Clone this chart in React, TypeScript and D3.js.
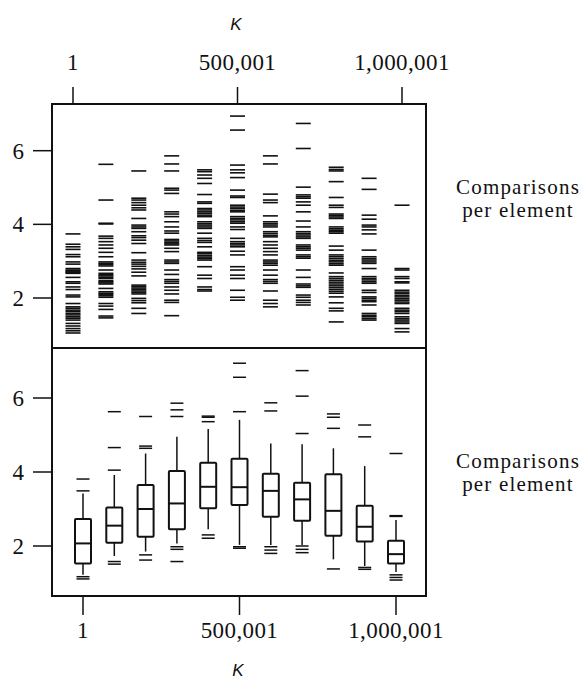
import * as d3 from "d3";

// K positions (one column per value of K)
const kValues = [1, 100001, 200001, 300001, 400001, 500001, 600001, 700001, 800001, 900001, 1000001];

// comparisons per element, one array per K
const c01 = [3.74, 3.46, 3.39, 3.32, 3.18, 3.12, 2.98, 2.92, 2.8, 2.76, 2.74, 2.71, 2.69, 2.67, 2.56, 2.44, 2.4, 2.3, 2.23, 2.08, 2.03, 1.85, 1.76, 1.72, 1.67, 1.63, 1.58, 1.54, 1.49, 1.45, 1.4, 1.31, 1.24, 1.17, 1.11, 1.05];
const c02 = [5.63, 4.66, 4.03, 4.01, 3.68, 3.62, 3.53, 3.44, 3.35, 3.24, 3.12, 2.98, 2.94, 2.91, 2.87, 2.76, 2.67, 2.63, 2.6, 2.56, 2.53, 2.47, 2.44, 2.41, 2.38, 2.26, 2.17, 2.13, 2.1, 2.06, 2.02, 1.85, 1.78, 1.69, 1.51, 1.46];
const c03 = [5.45, 4.71, 4.66, 4.59, 4.52, 4.45, 4.39, 4.16, 3.98, 3.93, 3.89, 3.8, 3.69, 3.64, 3.57, 3.48, 3.23, 3.03, 2.97, 2.92, 2.86, 2.79, 2.7, 2.6, 2.35, 2.31, 2.27, 2.23, 2.19, 2.15, 2.11, 1.99, 1.93, 1.87, 1.72, 1.58];
const c04 = [5.86, 5.64, 5.45, 4.98, 4.93, 4.84, 4.34, 4.28, 4.21, 4.07, 3.93, 3.82, 3.76, 3.59, 3.55, 3.51, 3.47, 3.44, 3.35, 3.26, 3.03, 2.98, 2.94, 2.76, 2.64, 2.5, 2.45, 2.4, 2.3, 2.21, 2.11, 1.94, 1.88, 1.52];
const c05 = [5.48, 5.43, 5.34, 5.25, 5.11, 4.81, 4.61, 4.57, 4.43, 4.39, 4.34, 4.3, 4.25, 4.21, 4.07, 4.02, 3.98, 3.93, 3.89, 3.76, 3.62, 3.56, 3.51, 3.39, 3.24, 3.2, 3.15, 3.11, 3.07, 3.03, 2.85, 2.62, 2.53, 2.3, 2.23, 2.19];
const c06 = [6.94, 6.56, 5.61, 5.48, 5.4, 5.27, 4.93, 4.77, 4.73, 4.52, 4.47, 4.43, 4.38, 4.34, 4.21, 4.16, 4.12, 4.07, 4.03, 3.93, 3.86, 3.62, 3.53, 3.48, 3.44, 3.39, 3.27, 3.17, 2.85, 2.76, 2.62, 2.53, 2.21, 2.02, 1.94];
const c07 = [5.86, 5.64, 4.82, 4.66, 4.59, 4.23, 4.07, 4.02, 3.98, 3.93, 3.8, 3.75, 3.7, 3.66, 3.53, 3.44, 3.35, 3.26, 3.17, 3.03, 2.98, 2.94, 2.89, 2.76, 2.62, 2.5, 2.45, 2.4, 2.19, 1.94, 1.85, 1.76];
const c08 = [6.74, 6.06, 5.01, 4.8, 4.75, 4.71, 4.61, 4.52, 4.34, 4.09, 3.93, 3.8, 3.75, 3.71, 3.66, 3.62, 3.44, 3.39, 3.35, 3.3, 3.17, 3.12, 3.08, 2.76, 2.56, 2.38, 2.33, 2.29, 2.08, 2.02, 1.94, 1.88, 1.81];
const c09 = [5.55, 5.49, 5.45, 5.16, 4.73, 4.52, 4.46, 4.28, 4.24, 4.2, 4.16, 3.93, 3.88, 3.84, 3.8, 3.76, 3.41, 3.3, 3.17, 3.12, 3.07, 3.02, 2.98, 2.93, 2.89, 2.68, 2.58, 2.53, 2.48, 2.43, 2.38, 2.33, 2.28, 2.23, 2.18, 2.13, 2.03, 1.87, 1.72, 1.65, 1.35];
const c10 = [5.25, 4.95, 4.25, 4.14, 3.98, 3.93, 3.85, 3.74, 3.3, 3.12, 3.07, 3.03, 2.98, 2.94, 2.8, 2.58, 2.53, 2.49, 2.44, 2.4, 2.21, 2.15, 2.03, 1.99, 1.94, 1.9, 1.81, 1.58, 1.53, 1.49, 1.44, 1.4];
const c11 = [4.52, 2.8, 2.76, 2.58, 2.53, 2.44, 2.41, 2.21, 2.16, 2.12, 2.07, 2.03, 1.98, 1.94, 1.89, 1.85, 1.72, 1.67, 1.63, 1.58, 1.49, 1.44, 1.4, 1.35, 1.31, 1.17, 1.08];
const columns = [c01, c02, c03, c04, c05, c06, c07, c08, c09, c10, c11];

// box plot summaries
const boxQ1 = [1.53, 2.09, 2.25, 2.45, 3.02, 3.11, 2.79, 2.68, 2.28, 2.12, 1.53];
const boxMedian = [2.07, 2.55, 3.0, 3.15, 3.6, 3.59, 3.49, 3.26, 2.95, 2.52, 1.78];
const boxQ3 = [2.73, 3.04, 3.65, 4.03, 4.25, 4.36, 3.95, 3.71, 3.94, 3.09, 2.14];
const whiskerLow = [1.22, 1.73, 1.85, 2.07, 2.45, 2.03, 2.03, 2.03, 1.64, 1.46, 1.3];
const whiskerHigh = [3.42, 3.92, 4.5, 4.95, 5.16, 5.41, 4.77, 4.75, 4.64, 4.16, 2.7];
const outliersHigh = [
  [3.81, 3.49], [5.63, 4.66, 4.05], [5.5, 4.7, 4.64], [5.86, 5.68, 5.5], [5.51, 5.48, 5.36],
  [6.94, 6.56, 5.63], [5.87, 5.65], [6.74, 6.05, 5.04], [5.57, 5.48, 5.18], [5.27, 4.95], [4.5, 2.82, 2.8],
];
const outliersLow = [
  [1.17, 1.11], [1.58, 1.51], [1.76, 1.62], [1.98, 1.91, 1.58], [2.3, 2.21],
  [1.98, 1.94], [1.98, 1.89, 1.8], [2.0, 1.91, 1.82], [1.38], [1.42, 1.37], [1.22, 1.15, 1.08],
];

const xTicks = [1, 500001, 1000001];
const xTickLabels = ["1", "500,001", "1,000,001"];
const yTicks = [2, 4, 6];

const W = 583;
const H = 682;
const frame = { left: 52, right: 426, top: 104, mid: 348, bottom: 596 };
const ink = "#111";
const serif = { fontFamily: "Liberation Serif, Tinos, DejaVu Serif, serif" };
const sans = { fontFamily: "Liberation Sans, Arimo, DejaVu Sans, sans-serif", fontStyle: "italic" };

const xTop = d3.scaleLinear().domain([1, 1000001]).range([73, 402]);
const xBot = d3.scaleLinear().domain([1, 1000001]).range([83, 396]);
const yTop = d3.scaleLinear().domain([2, 6]).range([298, 150.7]);
const yBot = d3.scaleLinear().domain([2, 6]).range([546, 398]);

function YAxis({ y }: { y: d3.ScaleLinear<number, number> }) {
  return (
    <g>
      {yTicks.map((t) => (
        <g key={t}>
          <line x1={frame.left - 19} x2={frame.left} y1={y(t)} y2={y(t)} stroke={ink} strokeWidth={1.5} />
          <text x={24} y={y(t) + 8} textAnchor="end" style={serif} fontSize={23} fill={ink}>
            {t}
          </text>
        </g>
      ))}
    </g>
  );
}

function SideLabel({ y }: { y: number }) {
  return (
    <g style={serif} fontSize={21} letterSpacing={1.2} fill={ink} textAnchor="middle">
      <text x={518} y={y}>Comparisons</text>
      <text x={518} y={y + 23}>per element</text>
    </g>
  );
}

export default function App() {
  const dashTop = 7.5;
  const dashOut = 6.5;
  const boxHalf = 8;
  return (
    <svg width={W} height={H} style={{ position: "absolute", left: 0, top: 0, background: "#fff" }}>
      <rect width={W} height={H} fill="#fff" />

      {/* top axis */}
      <text x={236} y={30} textAnchor="middle" style={sans} fontSize={17} fill={ink}>K</text>
      {xTicks.map((t, i) => (
        <g key={t}>
          <line x1={xTop(t)} x2={xTop(t)} y1={87} y2={frame.top} stroke={ink} strokeWidth={1.5} />
          <text x={xTop(t)} y={70} textAnchor="middle" style={serif} fontSize={23} letterSpacing={0.4} fill={ink}>
            {xTickLabels[i]}
          </text>
        </g>
      ))}

      {/* bottom axis */}
      {xTicks.map((t, i) => (
        <g key={t}>
          <line x1={xBot(t)} x2={xBot(t)} y1={frame.bottom} y2={615} stroke={ink} strokeWidth={1.5} />
          <text x={xBot(t)} y={638} textAnchor="middle" style={serif} fontSize={23} letterSpacing={0.4} fill={ink}>
            {xTickLabels[i]}
          </text>
        </g>
      ))}
      <text x={238} y={676} textAnchor="middle" style={sans} fontSize={17} fill={ink}>K</text>

      <YAxis y={yTop} />
      <YAxis y={yBot} />

      {/* top panel: strip of dashes */}
      <g stroke={ink} strokeWidth={1.6}>
        {columns.map((col, i) =>
          col.map((v, j) => (
            <line
              key={`${i}-${j}`}
              x1={xTop(kValues[i]) - dashTop}
              x2={xTop(kValues[i]) + dashTop}
              y1={yTop(v)}
              y2={yTop(v)}
            />
          )),
        )}
      </g>

      {/* bottom panel: box plots */}
      <g stroke={ink} fill="none">
        {kValues.map((k, i) => {
          const cx = xBot(k);
          return (
            <g key={k}>
              <line x1={cx} x2={cx} y1={yBot(boxQ3[i])} y2={yBot(whiskerHigh[i])} strokeWidth={1.5} />
              <line x1={cx} x2={cx} y1={yBot(boxQ1[i])} y2={yBot(whiskerLow[i])} strokeWidth={1.5} />
              <rect
                x={cx - boxHalf}
                y={yBot(boxQ3[i])}
                width={boxHalf * 2}
                height={yBot(boxQ1[i]) - yBot(boxQ3[i])}
                strokeWidth={2}
                rx={1}
              />
              <line x1={cx - boxHalf} x2={cx + boxHalf} y1={yBot(boxMedian[i])} y2={yBot(boxMedian[i])} strokeWidth={2} />
              {[...outliersHigh[i], ...outliersLow[i]].map((v, j) => (
                <line key={j} x1={cx - dashOut} x2={cx + dashOut} y1={yBot(v)} y2={yBot(v)} strokeWidth={1.5} />
              ))}
            </g>
          );
        })}
      </g>

      {/* frame */}
      <rect
        x={frame.left}
        y={frame.top}
        width={frame.right - frame.left}
        height={frame.bottom - frame.top}
        fill="none"
        stroke={ink}
        strokeWidth={2}
      />
      <line x1={frame.left} x2={frame.right} y1={frame.mid} y2={frame.mid} stroke={ink} strokeWidth={2.2} />

      <SideLabel y={194} />
      <SideLabel y={468} />
    </svg>
  );
}
